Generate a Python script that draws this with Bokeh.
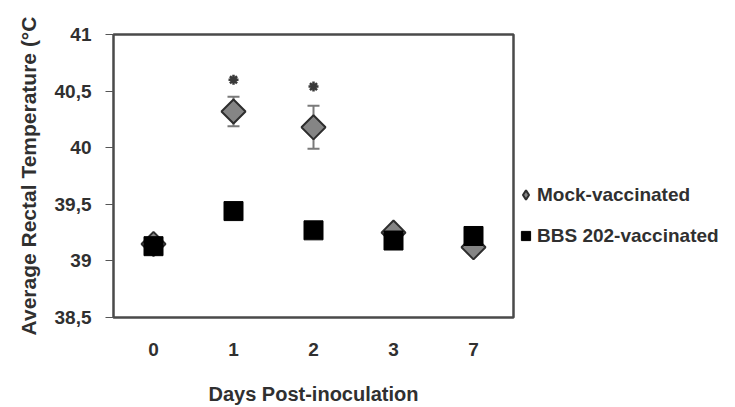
from bokeh.plotting import figure
from bokeh.layouts import row
from bokeh.models import (ColumnDataSource, FactorRange, Range1d, FixedTicker,
                          Whisker, TeeHead, Legend, LegendItem)
from bokeh.embed import file_html
from bokeh.resources import INLINE

# ---- data ----
days = ["0", "1", "2", "3", "7"]
mock_mean = [39.15, 40.32, 40.18, 39.25, 39.12]
mock_err = [0.03, 0.13, 0.19, 0.03, 0.03]
bbs_mean = [39.13, 39.44, 39.27, 39.18, 39.22]
bbs_err = [0.03, 0.05, 0.03, 0.03, 0.03]
star_days = ["1", "2"]
star_y = [40.60, 40.54]
y_ticks = [38.5, 39.0, 39.5, 40.0, 40.5, 41.0]
y_tick_labels = ["38,5", "39", "39,5", "40", "40,5", "41"]
series_names = ["Mock-vaccinated", "BBS 202-vaccinated"]

FONT = "Liberation Sans"
TXT = "#303030"
MOCK_STYLE = dict(fill_color="#858585", line_color="#2e2e2e", line_width=2)
BBS_STYLE = dict(marker="square", fill_color="#000000", line_color="#000000",
                 line_width=1)

mock_src = ColumnDataSource(dict(x=days, y=mock_mean,
                                 lo=[m - e for m, e in zip(mock_mean, mock_err)],
                                 hi=[m + e for m, e in zip(mock_mean, mock_err)]))
bbs_src = ColumnDataSource(dict(x=days, y=bbs_mean,
                                lo=[m - e for m, e in zip(bbs_mean, bbs_err)],
                                hi=[m + e for m, e in zip(bbs_mean, bbs_err)]))
star_src = ColumnDataSource(dict(x=star_days, y=star_y))

p = figure(width=515, height=407, output_backend="svg", toolbar_location=None,
           x_range=FactorRange(factors=days, range_padding=0),
           y_range=Range1d(38.5, 41.0),
           min_border_left=113, min_border_right=2,
           min_border_top=34, min_border_bottom=87)

p.grid.visible = False
p.outline_line_color = "#4a4a4a"
p.outline_line_width = 2.5
p.background_fill_color = "white"
p.border_fill_color = "white"

# y axis
p.yaxis.ticker = FixedTicker(ticks=y_ticks)
p.yaxis.major_label_overrides = {t: l for t, l in zip(y_ticks, y_tick_labels)}
p.yaxis.major_tick_out = 8
p.yaxis.major_tick_in = 0
p.yaxis.minor_tick_line_color = None
p.yaxis.major_tick_line_color = "#555555"
p.yaxis.axis_line_color = None
p.yaxis.major_label_standoff = 14
p.yaxis.axis_label = "Average Rectal Temperature (°C"
p.yaxis.axis_label_standoff = 12

# x axis
p.xaxis.major_tick_line_color = None
p.xaxis.major_tick_out = 0
p.xaxis.axis_line_color = None
p.xaxis.major_label_standoff = 25
p.xaxis.axis_label = "Days Post-inoculation"
p.xaxis.axis_label_standoff = 24

for ax in (p.xaxis[0], p.yaxis[0]):
    ax.major_label_text_font = FONT
    ax.major_label_text_font_size = "19px"
    ax.major_label_text_font_style = "bold"
    ax.major_label_text_color = TXT
    ax.axis_label_text_font = FONT
    ax.axis_label_text_font_style = "bold"
    ax.axis_label_text_color = TXT
p.xaxis.axis_label_text_font_size = "20px"
p.yaxis.axis_label_text_font_size = "21px"

# error bars
p.add_layout(Whisker(source=mock_src, base="x", lower="lo", upper="hi",
                     line_color="#7a7a7a", line_width=2,
                     upper_head=TeeHead(size=12, line_color="#7a7a7a", line_width=2),
                     lower_head=TeeHead(size=12, line_color="#7a7a7a", line_width=2)))

p.scatter("x", "y", source=mock_src, size=17, marker="square", angle=0.785398,
          **MOCK_STYLE)

p.add_layout(Whisker(source=bbs_src, base="x", lower="lo", upper="hi",
                     line_color="#000000", line_width=2,
                     upper_head=TeeHead(size=10, line_color="#000000", line_width=2),
                     lower_head=TeeHead(size=10, line_color="#000000", line_width=2)))

p.scatter("x", "y", source=bbs_src, size=19, **BBS_STYLE)

p.scatter("x", "y", source=star_src, marker="asterisk", size=10,
          line_color="#3a3a3a", line_width=2.5)

# ---- legend panel (separate figure to the right of the plot) ----
q = figure(width=220, height=407, output_backend="svg", toolbar_location=None,
           x_range=Range1d(0, 1), y_range=Range1d(0, 1),
           min_border_left=0, min_border_right=0, min_border_top=0,
           min_border_bottom=0)
q.axis.visible = False
q.grid.visible = False
q.outline_line_color = None
q.background_fill_color = "white"
q.border_fill_color = "white"
# legend-only renderers: their single point lies outside the visible range
lm = q.scatter(x=[-10], y=[-10], size=9, marker="diamond", **MOCK_STYLE)
lb = q.scatter(x=[-10], y=[-10], size=9, **BBS_STYLE)

legend = Legend(items=[LegendItem(label=series_names[0], renderers=[lm]),
                       LegendItem(label=series_names[1], renderers=[lb])],
                location=(-1, 70), orientation="vertical",
                glyph_width=23, glyph_height=23, label_standoff=0,
                spacing=18, padding=0, margin=0,
                border_line_color=None, background_fill_alpha=0,
                label_text_font=FONT, label_text_font_size="19px",
                label_text_font_style="bold", label_text_color=TXT)
q.add_layout(legend, "center")

layout = row(p, q, spacing=0)
open("out.html", "w").write(file_html(layout, INLINE))
